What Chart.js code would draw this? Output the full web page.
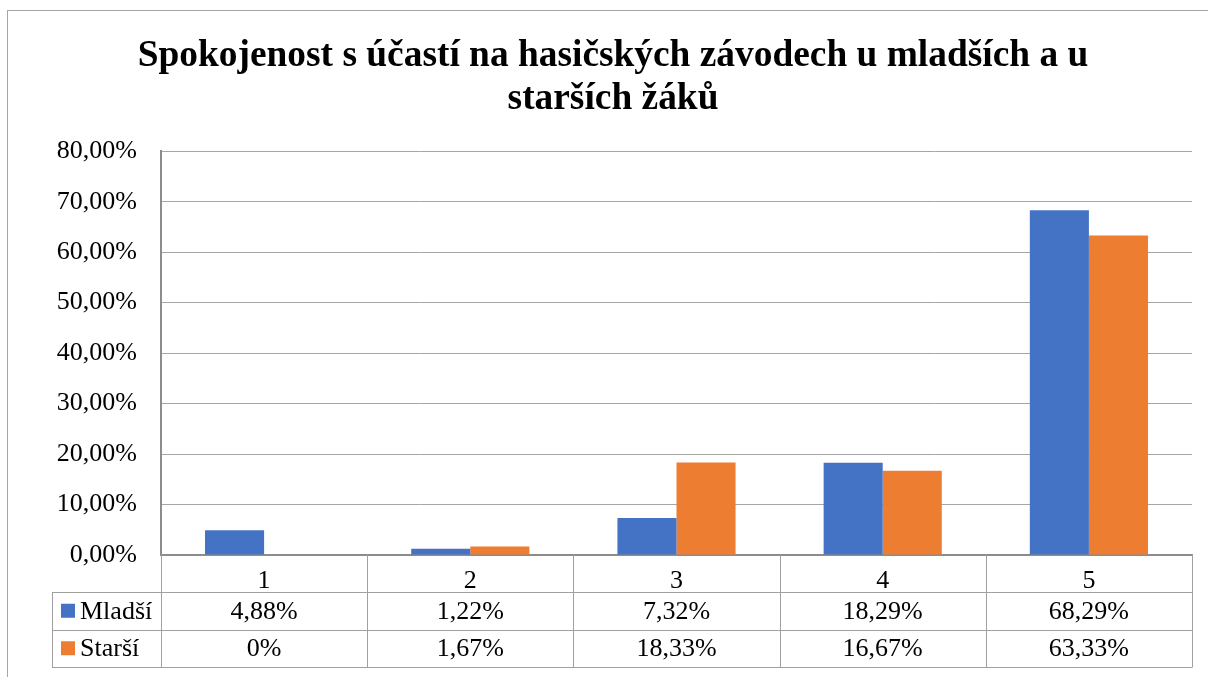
<!DOCTYPE html>
<html>
<head>
<meta charset="utf-8">
<script src="https://cdn.jsdelivr.net/npm/chart.js@4"></script>
<style>
  body { margin: 0; background: #fff; }
  canvas { display: block; }
</style>
</head>
<body>
<canvas id="myChart" width="1208" height="677"></canvas>
<script>
// Data
const categories = ['1', '2', '3', '4', '5'];
const seriesNames = ['Mladší', 'Starší'];
const mladsi = [4.88, 1.22, 7.32, 18.29, 68.29];
const starsi = [0, 1.67, 18.33, 16.67, 63.33];
const titleLines = ['Spokojenost s účastí na hasičských závodech u mladších a u', 'starších žáků'];

const blue = '#4472C4';
const orange = '#ED7D31';
const FONT = '"Liberation Serif", "Times New Roman", serif';

function pct(v) {
    if (v === 0) return '0%';
    return v.toFixed(2).replace('.', ',') + '%';
}

// frame around the whole chart
const framePlugin = {
    id: 'frame',
    beforeDraw(chart) {
        const c = chart.ctx;
        c.save();
        c.fillStyle = '#fff';
        c.fillRect(0, 0, chart.width, chart.height);
        c.strokeStyle = '#a6a6a6';
        c.lineWidth = 1;
        c.strokeRect(7.5, 10.5, chart.width + 10, chart.height + 10);
        c.restore();
    }
};

// data table under the plot (Excel style)
const tablePlugin = {
    id: 'dataTable',
    afterDraw(chart) {
        const c = chart.ctx;
        const xs = chart.scales.x;
        const area = chart.chartArea;
        const n = categories.length;
        const step = (area.right - area.left) / n;
        const rowTop = area.bottom;
        const headH = 37;
        const rowH = 37.5;
        const legLeft = 52;
        const rows = [mladsi, starsi];
        const colors = [blue, orange];

        c.save();
        c.strokeStyle = '#a0a0a0';
        c.lineWidth = 1;
        c.beginPath();
        // horizontal lines
        for (let r = 0; r <= rows.length; r++) {
            const y = Math.round(rowTop + headH + r * rowH) + 0.5;
            c.moveTo(legLeft, y);
            c.lineTo(area.right, y);
        }
        const bottom = Math.round(rowTop + headH + rows.length * rowH) + 0.5;
        // vertical lines
        for (let i = 0; i <= n; i++) {
            const x = Math.round(area.left + i * step) + 0.5;
            c.moveTo(x, rowTop);
            c.lineTo(x, bottom);
        }
        const lx = legLeft + 0.5;
        c.moveTo(lx, Math.round(rowTop + headH) + 0.5);
        c.lineTo(lx, bottom);
        c.stroke();

        c.font = '26px ' + FONT;
        c.fillStyle = '#000';
        c.textBaseline = 'middle';
        rows.forEach((vals, r) => {
            const cy = rowTop + headH + r * rowH + rowH / 2;
            c.fillStyle = colors[r];
            c.fillRect(61, cy - 7, 14, 14);
            c.fillStyle = '#000';
            c.textAlign = 'left';
            c.fillText(seriesNames[r], 80, cy + 1);
            c.textAlign = 'center';
            vals.forEach((v, i) => {
                c.fillText(pct(v), xs.getPixelForValue(i), cy + 1);
            });
        });
        c.restore();
    }
};

const ctx = document.getElementById('myChart').getContext('2d');
const chart = new Chart(ctx, {
    type: 'bar',
    data: {
        labels: categories,
        datasets: [
            { label: seriesNames[0], data: mladsi, backgroundColor: blue },
            { label: seriesNames[1], data: starsi, backgroundColor: orange }
        ]
    },
    options: {
        responsive: false,
        animation: false,
        layout: { padding: { left: 34, right: 16, top: 0, bottom: 0 } },
        datasets: {
            bar: { barPercentage: 1, categoryPercentage: 0.573 }
        },
        scales: {
            x: {
                grid: { display: false },
                border: { display: true, color: '#8c8c8c', width: 2 },
                ticks: {
                    color: '#000',
                    font: { family: FONT, size: 26 },
                    padding: 3,
                    maxRotation: 0
                },
                afterFit(scale) { scale.height = 122; }
            },
            y: {
                min: 0,
                max: 80,
                grid: { color: '#a6a6a6', lineWidth: 1, drawTicks: false },
                border: { display: true, color: '#8c8c8c', width: 2 },
                ticks: {
                    stepSize: 10,
                    color: '#000',
                    font: { family: FONT, size: 26 },
                    padding: 24,
                    callback: v => v.toFixed(2).replace('.', ',') + '%'
                },
                afterFit(scale) { scale.width = 127; }
            }
        },
        plugins: {
            legend: { display: false },
            tooltip: { enabled: false },
            title: {
                display: true,
                text: titleLines,
                color: '#000',
                font: { family: FONT, size: 37.4, weight: 'bold', lineHeight: 1.14 },
                padding: { top: 35, bottom: 31 }
            }
        }
    },
    plugins: [framePlugin, tablePlugin]
});
</script>
</body>
</html>
